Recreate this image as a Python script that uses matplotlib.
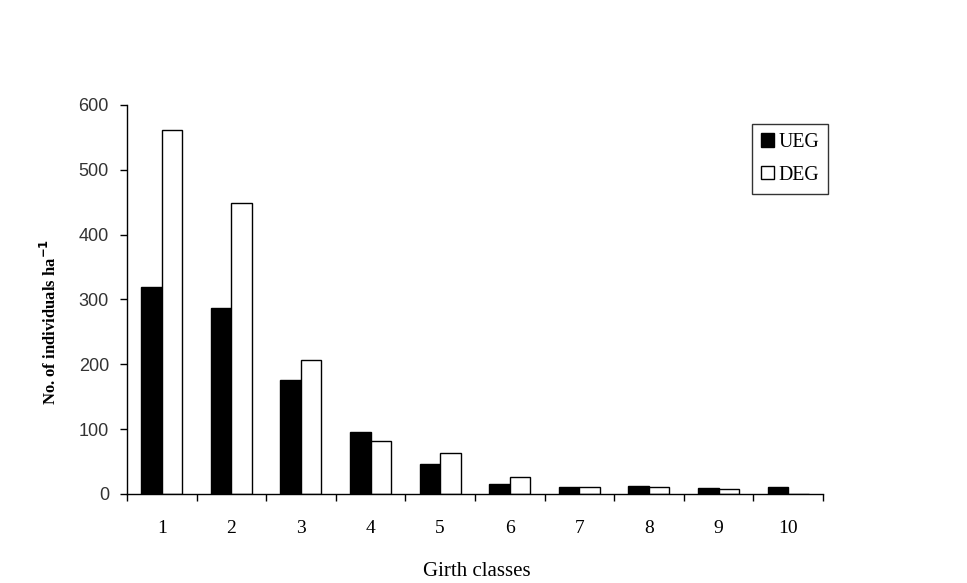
import matplotlib.pyplot as plt
import numpy as np

# girth classes and stand density (individuals per ha)
classes = ['1', '2', '3', '4', '5', '6', '7', '8', '9', '10']
ueg = [320, 287, 176, 95, 46, 15, 10, 12, 9, 10]
deg = [561, 449, 206, 81, 63, 26, 10, 10, 8, 0]

serif = 'Liberation Serif'
sans = 'Liberation Sans'

fig = plt.figure(figsize=(9.67, 5.83), dpi=100)
ax = fig.add_axes([0.1313, 0.1527, 0.7197, 0.6672])

x = np.arange(len(classes))
w = 0.295
ax.bar(x - w / 2, ueg, w, color='black', edgecolor='black', linewidth=1.0, label='UEG')
ax.bar(x + w / 2, deg, w, color='white', edgecolor='black', linewidth=1.0, label='DEG')

ax.set_xlim(-0.5, len(classes) - 0.5)
ax.set_ylim(0, 600)
ax.set_yticks(range(0, 601, 100))

# tick marks sit between classes, labels in the middle
ax.set_xticks(x)
ax.set_xticklabels(classes, fontfamily=serif, fontsize=14)
ax.set_xticks(np.arange(-0.5, len(classes)), minor=True)
ax.tick_params(axis='x', which='major', length=0, pad=19)
ax.tick_params(axis='x', which='minor', length=5, width=1, direction='out')
ax.tick_params(axis='y', length=5, width=1, direction='out', pad=8, labelsize=13,
               labelcolor='#333333')
for lab in ax.get_yticklabels():
    lab.set_fontfamily(sans)

for s in ['top', 'right']:
    ax.spines[s].set_visible(False)
for s in ['left', 'bottom']:
    ax.spines[s].set_linewidth(1.0)

fig.text(50 / 967, 1 - 322 / 583, 'No. of individuals ha$^{\\mathbf{-1}}$',
         rotation=90, ha='center', va='center', fontfamily=serif,
         fontweight='bold', fontsize=12)
fig.text(477 / 967, 1 - 571 / 583, 'Girth classes', ha='center', va='center',
         fontfamily=serif, fontsize=15)

leg = ax.legend(loc='upper left', bbox_to_anchor=(752 / 967, 1 - 124 / 583),
                bbox_transform=fig.transFigure, frameon=True, fancybox=False,
                edgecolor='black', handlelength=0.65, handleheight=0.65,
                handletextpad=0.25, borderpad=0.45, labelspacing=0.7,
                borderaxespad=0, prop={'family': serif, 'size': 14.2})
leg.get_frame().set_linewidth(1.0)

fig.savefig('out.png', dpi=100)
